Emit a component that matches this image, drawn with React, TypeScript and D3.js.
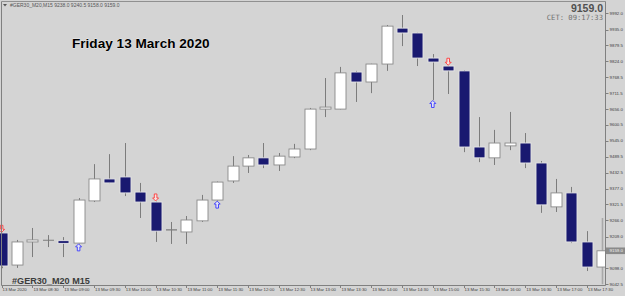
import React from "react";
import * as d3 from "d3";

// ---- data (M15 bars, 13 Mar 2020 from 08:00) ----
const opens = [9221.5, 9109, 9190, 9196, 9194.5, 9186, 9334, 9411, 9418, 9365, 9330, 9232, 9225, 9264, 9337, 9404, 9456, 9485, 9460, 9488, 9516, 9656, 9656, 9786, 9751, 9814, 9940, 9923, 9835, 9807, 9790, 9523, 9485, 9527, 9537, 9467, 9313, 9362, 9190, 9102];
const highs = [9222, 9197, 9239, 9214, 9207, 9344, 9463, 9498, 9537, 9397, 9332, 9260, 9281, 9355, 9402, 9491, 9495, 9537, 9502, 9534, 9660, 9765, 9804, 9790, 9815, 9951, 9986, 9924, 9849, 9808, 9793, 9628, 9583, 9646, 9572, 9474, 9411, 9383, 9228, 9274];
const lows = [9098, 9099, 9137, 9172, 9137, 9185, 9330, 9396, 9351, 9274, 9190, 9183, 9183, 9260, 9335, 9397, 9432, 9449, 9439, 9484, 9512, 9628, 9655, 9681, 9712, 9790, 9877, 9807, 9688, 9709, 9505, 9470, 9460, 9512, 9449, 9292, 9295, 9186, 9088, 9042];
const closes = [9105.7, 9190, 9197, 9196, 9185, 9337, 9411, 9397, 9362, 9330, 9228, 9232, 9267, 9337, 9400, 9456, 9485, 9460, 9491, 9516, 9656, 9663, 9783, 9751, 9814, 9947, 9923, 9835, 9821, 9790, 9523, 9485, 9537, 9537, 9467, 9320, 9362, 9190, 9102, 9159];

const barTimes = d3.range(opens.length).map((i) => {
  const m = 8 * 60 + 15 * i;
  const hh = String(Math.floor(m / 60)).padStart(2, "0");
  const mm = String(m % 60).padStart(2, "0");
  return `${hh}:${mm}`;
});
const xTickLabels = barTimes.map((t, i) => (i === 0 ? "13 Mar 2020" : `13 Mar ${t}`));

const yTicks = [9992.0, 9935.0, 9879.5, 9824.0, 9768.5, 9711.5, 9656.0, 9600.5, 9545.0, 9489.5, 9432.5, 9377.0, 9321.5, 9266.0, 9209.0, 9098.0, 9042.5];
const currentPrice = 9159.0;

const upSignals = [5, 14, 28];
const downSignals = [0, 10, 29];

const headerText = "#GER30_M20,M15  9238.0 9240.5 9158.0 9159.0";
const titleText = "Friday 13 March 2020";
const symbolText = "#GER30_M20 M15";
const timeText = "CET:  09:17:33";

// ---- layout ----
const W = 625;
const H = 296;
const plotLeft = 1.5;
const plotTop = 1.5;
const plotRight = 605.5;
const plotBottom = 285.5;

const BG = "#d4d4d4";
const BEAR = "#191970";
const WICK = "#7c7c7c";
const FONT = "'Liberation Sans', Arial, sans-serif";

export default function App() {
  const x = d3.scaleLinear().domain([0, opens.length - 1]).range([1.6, 602.2]);
  const y = d3.scaleLinear().domain([9042.5, 9992]).range([284, 13.3]);
  const bw = 11;

  const upArrow = (cx: number, tipY: number) =>
    `M${cx},${tipY} L${cx + 3},${tipY + 3} L${cx + 1.3},${tipY + 3} L${cx + 1.3},${tipY + 7} L${cx - 1.3},${tipY + 7} L${cx - 1.3},${tipY + 3} L${cx - 3},${tipY + 3} Z`;
  const downArrow = (cx: number, tipY: number) =>
    `M${cx},${tipY} L${cx + 3},${tipY - 3} L${cx + 1.3},${tipY - 3} L${cx + 1.3},${tipY - 7} L${cx - 1.3},${tipY - 7} L${cx - 1.3},${tipY - 3} L${cx - 3},${tipY - 3} Z`;

  return (
    <svg
      width={W}
      height={H}
      style={{ position: "absolute", left: 0, top: 0, display: "block" }}
      fontFamily={FONT}
    >
      <defs>
        <clipPath id="plotClip">
          <rect x={0} y={plotTop} width={plotRight} height={plotBottom - plotTop} />
        </clipPath>
      </defs>
      <rect x={0} y={0} width={W} height={H} fill={BG} />

      {/* candles */}
      <g clipPath="url(#plotClip)">
        {opens.map((o, i) => {
          const c = closes[i];
          const cx = Math.round(x(i)) + 0.5;
          const top = y(Math.max(o, c));
          const bot = y(Math.min(o, c));
          const bull = c > o;
          const doji = Math.abs(c - o) < 1;
          const isLast = i === opens.length - 1;
          return (
            <g key={i}>
              <line
                x1={cx}
                x2={cx}
                y1={y(highs[i])}
                y2={y(lows[i])}
                stroke={isLast ? "#a8a8a8" : WICK}
                strokeWidth={isLast ? 1.6 : 1}
              />
              {doji ? (
                <line x1={cx - bw / 2} x2={cx + bw / 2} y1={top} y2={top} stroke={WICK} strokeWidth={1.2} />
              ) : (
                <rect
                  x={cx - bw / 2}
                  y={top}
                  width={bw}
                  height={Math.max(bot - top, 1.5)}
                  fill={bull ? "#ffffff" : BEAR}
                  stroke={bull ? "#8a8a8a" : "#e6e6e6"}
                  strokeWidth={0.9}
                />
              )}
            </g>
          );
        })}
        {upSignals.map((i) => (
          <path key={"u" + i} d={upArrow(x(i), y(lows[i]) + 0.5)} fill="#e4e4f4" stroke="#3a3aff" strokeWidth={0.9} />
        ))}
        {downSignals.map((i) => (
          <path key={"d" + i} d={downArrow(x(i), y(highs[i]) - 0.5)} fill="#f4e4e4" stroke="#ff3a3a" strokeWidth={0.9} />
        ))}
      </g>

      {/* borders */}
      <line x1={plotLeft} x2={plotLeft} y1={plotTop} y2={plotBottom} stroke="#808080" />
      <line x1={plotLeft} x2={plotRight} y1={plotTop} y2={plotTop} stroke="#909090" />
      <line x1={plotRight} x2={plotRight} y1={plotTop} y2={plotBottom} stroke="#808080" />
      <line x1={plotLeft} x2={plotRight} y1={plotBottom} y2={plotBottom} stroke="#808080" />

      {/* y axis */}
      {yTicks.map((v) => (
        <g key={v}>
          <line x1={plotRight} x2={plotRight + 3} y1={Math.round(y(v)) + 0.5} y2={Math.round(y(v)) + 0.5} stroke="#808080" />
          <text x={plotRight + 4} y={y(v) + 1.5} fontSize={4.4} fill="#404040">
            {v.toFixed(1)}
          </text>
        </g>
      ))}
      <rect x={plotRight + 0.5} y={y(currentPrice) - 3.3} width={W - plotRight} height={6.6} fill="#8a8a8a" />
      <text x={plotRight + 4} y={y(currentPrice) + 1.6} fontSize={4.4} fill="#f4f4f4">
        {currentPrice.toFixed(1)}
      </text>

      {/* x axis */}
      {xTickLabels.map((lab, i) =>
        i % 2 === 0 ? (
          <g key={i}>
            <line x1={Math.round(x(i)) + 0.5} x2={Math.round(x(i)) + 0.5} y1={plotBottom} y2={plotBottom + 2.5} stroke="#808080" />
            <text x={x(i) + 1} y={291} fontSize={4.3} fill="#404040">
              {lab}
            </text>
          </g>
        ) : null
      )}

      {/* header / labels */}
      <path d="M3,4 L7,4 L5,6.5 Z" fill="#555" />
      <text x={10} y={6.8} fontSize={5} fill="#555">
        {headerText}
      </text>
      <text x={603} y={11.5} textAnchor="end" fontSize={10.5} fontWeight="bold" fill="#505050">
        {currentPrice.toFixed(1)}
      </text>
      <text x={603} y={19.5} textAnchor="end" fontSize={7.2} fill="#707070" fontFamily="'DejaVu Sans Mono', monospace">
        {timeText}
      </text>
      <text x={72} y={48} fontSize={13.6} fontWeight="bold" fill="#000" stroke="#ffffff" strokeWidth={0.4} paintOrder="stroke">
        {titleText}
      </text>
      <text x={12} y={284} fontSize={9.1} fontWeight="bold" fill="#3c3c3c">
        {symbolText}
      </text>
    </svg>
  );
}
